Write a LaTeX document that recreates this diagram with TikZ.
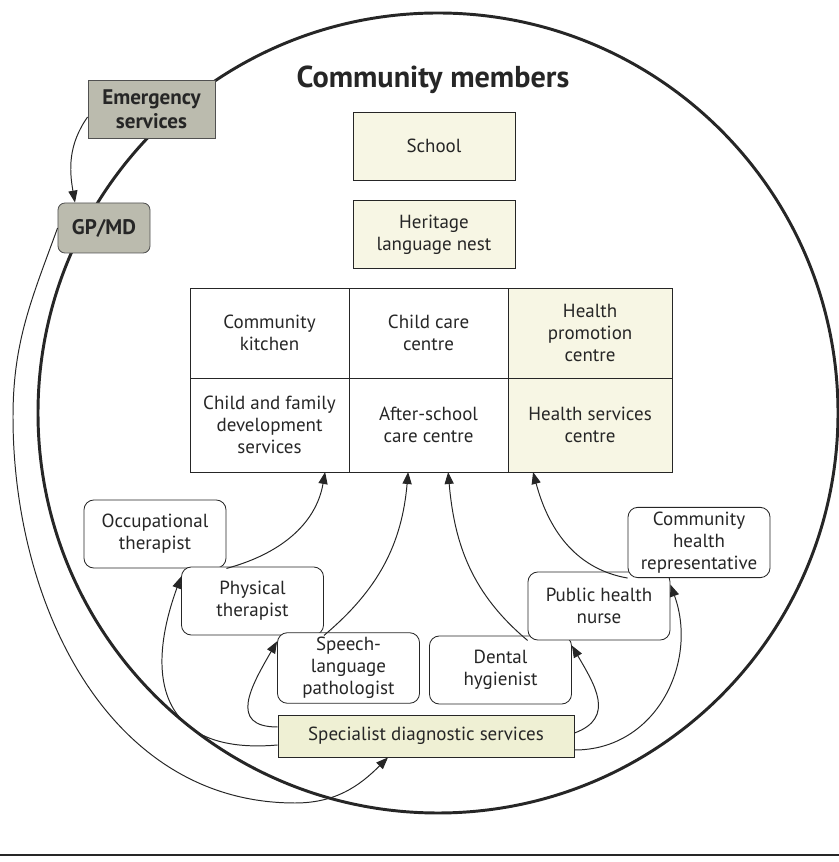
\documentclass[tikz,border=0pt]{standalone}
\usepackage{fontspec}
\setmainfont{PT Sans}
\usetikzlibrary{positioning,arrows.meta}

\definecolor{ink}{HTML}{262626}
\definecolor{paleyellow}{HTML}{F7F6E4}
\definecolor{diagyellow}{HTML}{EFF0D4}
\definecolor{servgray}{HTML}{BBBBAE}

\tikzset{
  bodyfont/.style={font=\fontsize{13.5}{15.5}\selectfont},
  cell/.style={draw=ink, line width=0.6pt, bodyfont, align=center, inner sep=0pt,
    outer sep=0pt, minimum width=3.975cm, minimum height=2.25cm},
  tall/.style={minimum height=2.35cm},
  wide/.style={minimum width=4.1cm},
  venue/.style={draw=ink, line width=0.6pt, fill=paleyellow, bodyfont, align=center,
    minimum width=4.05cm, minimum height=1.7cm},
  role/.style={draw=ink, line width=0.6pt, fill=white, rounded corners=7pt, bodyfont,
    align=center, minimum width=3.55cm, minimum height=1.7cm},
  diag/.style={draw=ink, line width=0.6pt, fill=diagyellow, bodyfont,
    minimum width=7.4cm, minimum height=1.05cm},
  service/.style={draw=ink!80, line width=0.6pt, fill=servgray, align=center,
    font=\bfseries\fontsize{15}{17}\selectfont, minimum width=3.175cm, minimum height=1.45cm},
  title/.style={font=\bfseries\fontsize{21.5}{25}\selectfont},
  link/.style={->, draw=ink, line width=0.7pt}
}

\begin{document}
\begin{tikzpicture}[x=0.025cm, y=0.025cm, >={Triangle[length=8.5pt,width=6.5pt]}, text=ink]
  \useasboundingbox (0,0) rectangle (839,862);

  % Community circle and rule
  \draw[ink, line width=2.1pt] (438,449) circle[radius=400];
  \draw[ink, line width=1.2pt] (0,7) -- (839,7);

  % Title
  \node[title] (members) at (433,782) {Community members};

  % Venues
  \node[venue] (school) at (434,716) {School};
  \node[venue, below=0.5cm of school] (nest) {Heritage\\language nest};

  % Centres
  \node[cell] (kitchen) at (269.5,529) {Community\\kitchen};
  \node[cell, right=0pt of kitchen] (childcare) {Child care\\centre};
  \node[cell, wide, fill=paleyellow, right=0pt of childcare] (promotion) {Health\\promotion\\centre};
  \node[cell, tall, below=0pt of kitchen] (family) {Child and family\\development\\services};
  \node[cell, tall, right=0pt of family] (afterschool) {After-school\\care centre};
  \node[cell, tall, wide, fill=paleyellow, right=0pt of afterschool] (hservices) {Health services\\centre};

  % Professionals
  \node[role] (occupational) at (155,328) {Occupational\\therapist};
  \node[role] (physical) at (252.5,261) {Physical\\therapist};
  \node[role] (speech) at (348.5,194) {Speech-\\language\\pathologist};
  \node[role] (dental) at (500.5,192) {Dental\\hygienist};
  \node[role] (nurse) at (599,256) {Public health\\nurse};
  \node[role] (chr) at (699,319.5) {Community\\health\\representative};
  \node[diag] (specialist) at (426,126) {Specialist diagnostic services};

  % Outside services
  \node[service] (emergency) at (151.5,753) {Emergency\\services};
  \node[service, rounded corners=5pt, minimum width=2.3cm, minimum height=1.25cm] (gp) at (104,634) {GP/MD};

  % Links
  \draw[link] ([yshift=-0.2cm]emergency.west) to[out=235,in=100] ([xshift=-0.725cm]gp.north);
  \draw[link] (gp.west) to[out=250,in=90] (13,445) to[out=270,in=180] (295,59)
    to[out=0,in=225] ([xshift=-0.95cm]specialist.south);

  \draw[link] (occupational.south east) to[out=15,in=-100] ([xshift=1.39cm]family.south);
  \draw[link] (physical.south east) to[out=40,in=-95] ([xshift=-0.51cm]afterschool.south);
  \draw[link] (nurse.south west) to[out=140,in=-85] ([xshift=0.49cm]afterschool.south);
  \draw[link] (chr.south west) to[out=170,in=-75] ([xshift=-1.425cm]hservices.south);

  \draw[link] ([yshift=-0.225cm]specialist.west) to[out=185,in=250,looseness=1.5] ([yshift=-0.25cm]physical.north west);
  \draw[link] ([yshift=0.225cm]specialist.west) to[out=180,in=240,looseness=1.5] ([yshift=-0.225cm]speech.north west);
  \draw[link] ([yshift=0.075cm]specialist.east) to[out=20,in=-60,looseness=1.3] ([yshift=-0.25cm]dental.north east);
  \draw[link] ([yshift=-0.35cm]specialist.east) to[out=0,in=-70,looseness=1.1] ([yshift=-0.325cm]nurse.north east);
\end{tikzpicture}
\end{document}
